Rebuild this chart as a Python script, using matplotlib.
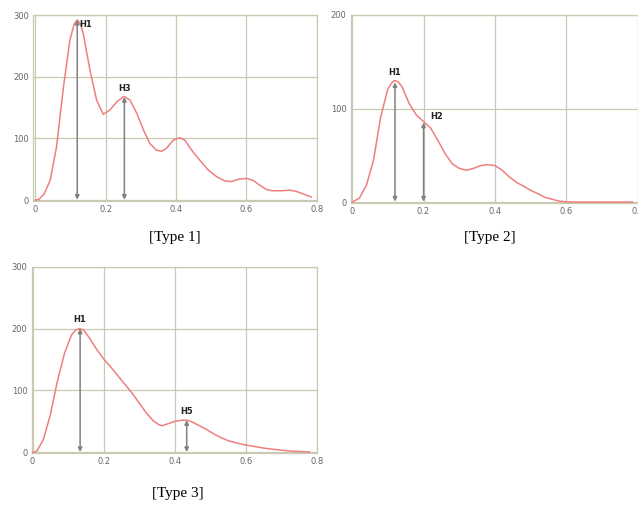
import matplotlib
matplotlib.use("Agg")
import matplotlib.pyplot as plt

# ---- data ----
t1_x = [0.0, 0.01, 0.025, 0.042, 0.06, 0.08, 0.098, 0.11, 0.119, 0.128, 0.136, 0.155, 0.174, 0.193,
        0.212, 0.231, 0.252, 0.269, 0.288, 0.307, 0.325, 0.344, 0.359, 0.373, 0.392, 0.41,
        0.425, 0.444, 0.467, 0.491, 0.515, 0.538, 0.557, 0.581, 0.60, 0.619, 0.638, 0.657,
        0.675, 0.699, 0.723, 0.742, 0.761, 0.784]
t1_y = [0, 1, 10, 32, 86, 184, 259, 285, 292, 286, 270, 211, 162, 139,
        146, 159, 168, 162, 141, 114, 92, 81, 79, 84, 97, 101,
        97, 81, 65, 49, 38, 31, 30, 34, 35, 32, 24, 17,
        15, 15, 16, 14, 10, 5]

t2_x = [0.0, 0.02, 0.04, 0.06, 0.08, 0.10, 0.112, 0.12, 0.13, 0.14, 0.16, 0.18, 0.20, 0.22, 0.24,
        0.26, 0.28, 0.30, 0.32, 0.34, 0.36, 0.38, 0.40, 0.42, 0.44, 0.46, 0.48, 0.50,
        0.52, 0.54, 0.56, 0.58, 0.60, 0.62, 0.70, 0.785]
t2_y = [0, 4, 18, 45, 91, 121, 128, 130, 128, 123, 105, 93, 86, 79, 66,
        52, 41, 36, 34, 36, 39, 40, 39, 34, 27, 21, 17, 12.5,
        9, 5, 3, 1, 0.3, 0, 0, 0]

t3_x = [0.0, 0.012, 0.03, 0.05, 0.07, 0.09, 0.11, 0.122, 0.133, 0.145, 0.16, 0.18, 0.20, 0.22,
        0.24, 0.26, 0.28, 0.30, 0.32, 0.34, 0.355, 0.365, 0.38, 0.40, 0.42, 0.435, 0.45,
        0.47, 0.49, 0.51, 0.53, 0.55, 0.57, 0.59, 0.61, 0.63, 0.65, 0.67, 0.69, 0.71,
        0.73, 0.75, 0.78]
t3_y = [0, 2, 20, 60, 115, 160, 190, 198, 200, 197, 185, 167, 151, 138,
        124, 110, 96, 80, 64, 51, 45, 43, 46, 50, 52, 52, 49,
        43, 37, 30, 24, 19, 16, 13, 11, 9, 7, 5.5, 4.3, 3,
        2, 1.5, 0.5]

# arrows: (label, x, height)
t1_marks = [("H1", 0.119, 292), ("H3", 0.253, 167)]
t2_marks = [("H1", 0.12, 128), ("H2", 0.20, 85)]
t3_marks = [("H1", 0.134, 200), ("H5", 0.434, 52)]

x_ticks = [0, 0.2, 0.4, 0.6, 0.8]
x_labels = ["0", "0.2", "0.4", "0.6", "0.8"]
captions = ["[Type 1]", "[Type 2]", "[Type 3]"]

W, H = 638, 521
fig = plt.figure(figsize=(W / 100, H / 100), dpi=100)

GRID = "#c9c9b4"
CURVE = "#ee7f7f"
ARROW = "#808080"
TICK = "#666666"


def make_ax(left, top, right, bottom, xlim, ylim, yticks):
    ax = fig.add_axes([left / W, 1 - bottom / H, (right - left) / W, (bottom - top) / H])
    ax.set_xlim(*xlim)
    ax.set_ylim(*ylim)
    ax.set_xticks(x_ticks)
    ax.set_xticklabels(x_labels)
    ax.set_yticks(yticks)
    ax.set_yticklabels([str(v) for v in yticks])
    ax.tick_params(length=0, labelsize=6, labelcolor=TICK, pad=3)
    ax.grid(True, color=GRID, lw=0.9)
    for s in ax.spines.values():
        s.set_color(GRID)
        s.set_linewidth(0.9)
    ax.set_axisbelow(True)
    return ax


def draw(ax, xs, ys, marks, label_offsets):
    ax.plot(xs, ys, color=CURVE, lw=1.1, clip_on=False, zorder=3)
    for (lab, x, h), (dx, dy, ha) in zip(marks, label_offsets):
        ax.annotate("", xy=(x, 0.5), xytext=(x, h),
                    arrowprops=dict(arrowstyle="<|-|>", color=ARROW, lw=1.1,
                                    mutation_scale=6, shrinkA=0, shrinkB=0), zorder=4)
        ax.text(x + dx, h + dy, lab, fontsize=6, fontweight="bold", color="#222222",
                ha=ha, va="bottom", zorder=5)


ax1 = make_ax(33.3, 15, 316.7, 201, (-0.006, 0.8), (-1.6, 300), [0, 100, 200, 300])
draw(ax1, t1_x, t1_y, t1_marks, [(0.005, -14, "left"), (0.0, 7, "center")])

ax2 = make_ax(350.7, 15, 645, 203, (-0.004, 0.82), (-1, 200), [0, 100, 200])
draw(ax2, t2_x, t2_y, t2_marks, [(0.0, 6, "center"), (0.018, 2, "left")])

ax3 = make_ax(31.7, 266.7, 316.7, 453, (-0.0023, 0.8), (-1, 300), [0, 100, 200, 300])
draw(ax3, t3_x, t3_y, t3_marks, [(0.0, 7, "center"), (0.0, 7, "center")])

serif = ["Liberation Serif", "DejaVu Serif"]
fig.text(175 / W, 1 - 237 / H, captions[0], fontsize=11, family=serif, ha="center", va="center")
fig.text(490 / W, 1 - 237 / H, captions[1], fontsize=11, family=serif, ha="center", va="center")
fig.text(178 / W, 1 - 493 / H, captions[2], fontsize=11, family=serif, ha="center", va="center")

fig.savefig("out.png", dpi=100, facecolor="white")
